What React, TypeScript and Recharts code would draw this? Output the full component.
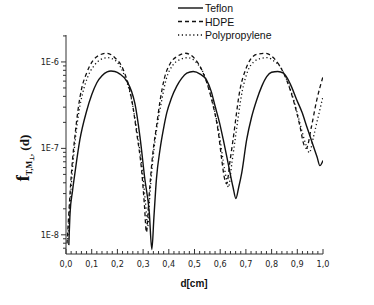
import { LineChart, Line, XAxis, YAxis, Legend, Label } from "recharts";

// Teflon (solid)
const teflonD = [0.011, 0.016, 0.025, 0.035, 0.054, 0.08, 0.1, 0.12, 0.14, 0.16, 0.175, 0.19, 0.21, 0.236, 0.255, 0.268, 0.288, 0.307, 0.324, 0.334, 0.342, 0.352, 0.366, 0.379, 0.392, 0.41, 0.431, 0.45, 0.47, 0.495, 0.522, 0.547, 0.565, 0.58, 0.597, 0.612, 0.626, 0.638, 0.65, 0.661, 0.672, 0.684, 0.703, 0.722, 0.742, 0.762, 0.781, 0.8, 0.824, 0.846, 0.872, 0.898, 0.918, 0.936, 0.962, 0.977, 0.988, 1.0];
const teflonV = [7.6e-9, 1.82e-8, 3.16e-8, 5.25e-8, 1.26e-7, 2.69e-7, 4.17e-7, 5.75e-7, 6.92e-7, 7.67e-7, 7.85e-7, 7.76e-7, 7.24e-7, 6.03e-7, 4.57e-7, 3.31e-7, 1.35e-7, 4.37e-8, 1.82e-8, 6.76e-9, 1.58e-8, 4.47e-8, 9.77e-8, 1.66e-7, 2.57e-7, 3.8e-7, 5.25e-7, 6.46e-7, 7.41e-7, 7.76e-7, 7.24e-7, 6.17e-7, 4.57e-7, 3.09e-7, 2.0e-7, 1.26e-7, 7.94e-8, 5.25e-8, 3.55e-8, 2.63e-8, 3.55e-8, 5.25e-8, 1.26e-7, 2.29e-7, 3.63e-7, 5.25e-7, 6.76e-7, 7.59e-7, 7.76e-7, 7.41e-7, 5.62e-7, 3.63e-7, 2.63e-7, 1.82e-7, 1.07e-7, 7.94e-8, 6.31e-8, 7.24e-8];

// HDPE (dashed)
const hdpeD = [0.004, 0.012, 0.022, 0.035, 0.047, 0.06, 0.08, 0.106, 0.13, 0.158, 0.19, 0.223, 0.256, 0.275, 0.295, 0.305, 0.313, 0.322, 0.338, 0.352, 0.366, 0.382, 0.405, 0.435, 0.465, 0.5, 0.534, 0.567, 0.593, 0.606, 0.615, 0.625, 0.638, 0.65, 0.677, 0.7, 0.716, 0.745, 0.775, 0.8, 0.826, 0.85, 0.872, 0.898, 0.91, 0.925, 0.935, 0.955, 0.975, 1.0];
const hdpeV = [7.94e-9, 2.0e-8, 5.62e-8, 1.41e-7, 2.82e-7, 4.79e-7, 7.41e-7, 1.05e-6, 1.2e-6, 1.26e-6, 1.12e-6, 8.13e-7, 3.63e-7, 1.51e-7, 5.25e-8, 2.24e-8, 1.07e-8, 2.51e-8, 8.91e-8, 1.78e-7, 3.55e-7, 6.31e-7, 9.55e-7, 1.17e-6, 1.26e-6, 1.1e-6, 7.41e-7, 3.63e-7, 1.51e-7, 7.41e-8, 4.79e-8, 3.89e-8, 7.08e-8, 1.26e-7, 4.79e-7, 8.32e-7, 1.05e-6, 1.23e-6, 1.26e-6, 1.17e-6, 9.55e-7, 7.08e-7, 4.79e-7, 2.57e-7, 1.82e-7, 1.12e-7, 1.0e-7, 1.78e-7, 3.55e-7, 6.76e-7];

// Polypropylene (dotted)
const ppD = [0.007, 0.015, 0.025, 0.038, 0.05, 0.065, 0.085, 0.11, 0.135, 0.162, 0.19, 0.222, 0.256, 0.277, 0.297, 0.309, 0.318, 0.326, 0.342, 0.357, 0.372, 0.39, 0.415, 0.445, 0.475, 0.505, 0.538, 0.57, 0.597, 0.612, 0.624, 0.632, 0.645, 0.658, 0.685, 0.708, 0.73, 0.76, 0.785, 0.81, 0.835, 0.858, 0.88, 0.905, 0.92, 0.935, 0.947, 0.962, 0.98, 1.0];
const ppV = [8.91e-9, 2.09e-8, 5.62e-8, 1.41e-7, 2.63e-7, 4.37e-7, 6.76e-7, 9.12e-7, 1.07e-6, 1.12e-6, 1.05e-6, 7.59e-7, 3.55e-7, 1.51e-7, 5.62e-8, 2.4e-8, 1.26e-8, 2.82e-8, 9.55e-8, 2.0e-7, 3.55e-7, 6.31e-7, 9.12e-7, 1.07e-6, 1.12e-6, 1.0e-6, 7.08e-7, 3.47e-7, 1.41e-7, 7.08e-8, 4.47e-8, 3.55e-8, 6.61e-8, 1.26e-7, 4.47e-7, 7.94e-7, 1.0e-6, 1.1e-6, 1.12e-6, 1.02e-6, 8.71e-7, 6.31e-7, 4.17e-7, 2.24e-7, 1.51e-7, 1.07e-7, 8.91e-8, 1.32e-7, 2.24e-7, 3.98e-7];

const xMajorTicks = [0, 0.1, 0.2, 0.3, 0.4, 0.5, 0.6, 0.7, 0.8, 0.9, 1.0];
const xTickLabels = ["0,0", "0,1", "0,2", "0,3", "0,4", "0,5", "0,6", "0,7", "0,8", "0,9", "1,0"];
const yMajorTicks = [1e-8, 1e-7, 1e-6];
const yTickLabels = ["1E-8", "1E-7", "1E-6"];
const yMinorTicks = [7e-9, 8e-9, 9e-9, 2e-8, 3e-8, 4e-8, 5e-8, 6e-8, 7e-8, 8e-8, 9e-8, 2e-7, 3e-7, 4e-7, 5e-7, 6e-7, 7e-7, 8e-7, 9e-7, 2e-6];

const toRows = (d: number[], v: number[]) => d.map((x, i) => ({ d: x, v: v[i] }));
const teflonData = toRows(teflonD, teflonV);
const hdpeData = toRows(hdpeD, hdpeV);
const ppData = toRows(ppD, ppV);

const series = [
  { name: "Teflon", dash: undefined as string | undefined, width: 1.4 },
  { name: "HDPE", dash: "4 3", width: 1.3 },
  { name: "Polypropylene", dash: "1.2 2.6", width: 1.3 },
];

// x minor ticks every 0.02
const xAllTicks = Array.from({ length: 51 }, (_, i) => Math.round(i * 2) / 100);
const yAllTicks = [...yMajorTicks, ...yMinorTicks].sort((a, b) => a - b);

const TICK_FONT = "'Liberation Sans Narrow', 'DejaVu Sans Condensed', 'Liberation Sans', Arial, sans-serif";
const AXIS = "#333";

const XTick = (props: any) => {
  const { x, y, payload } = props;
  const idx = xMajorTicks.findIndex((t) => Math.abs(t - payload.value) < 1e-6);
  if (idx < 0) return <line x1={x} x2={x} y1={y} y2={y - 3} stroke={AXIS} strokeWidth={1} />;
  return (
    <g>
      <line x1={x} x2={x} y1={y} y2={y - 5} stroke={AXIS} strokeWidth={1} />
      <text x={x} y={y + 13} textAnchor="middle" fontSize={9} fontFamily={TICK_FONT} fill="#222">
        {xTickLabels[idx]}
      </text>
    </g>
  );
};

const YTick = (props: any) => {
  const { x, y, payload } = props;
  const idx = yMajorTicks.findIndex((t) => Math.abs(t - payload.value) / t < 1e-6);
  if (idx < 0) return <line x1={x} x2={x - 3} y1={y} y2={y} stroke={AXIS} strokeWidth={1} />;
  return (
    <g>
      <line x1={x} x2={x - 5} y1={y} y2={y} stroke={AXIS} strokeWidth={1} />
      <text x={x - 7} y={y + 3} textAnchor="end" fontSize={9} fontFamily={TICK_FONT} fill="#222">
        {yTickLabels[idx]}
      </text>
    </g>
  );
};

const YTitle = () => (
  <text transform="translate(29,158) rotate(-90)" textAnchor="middle" fontFamily="'Liberation Serif', 'Times New Roman', serif" fontWeight="bold" fill="#111">
    <tspan fontSize={18}>f</tspan>
    <tspan fontSize={8} dy={3}>T,M</tspan>
    <tspan fontSize={6} dy={2}>⊥</tspan>
    <tspan fontSize={8} dy={-2}>,</tspan>
    <tspan fontSize={13} dy={-3}> (d)</tspan>
  </text>
);

const XTitle = () => (
  <text x={194} y={287} textAnchor="middle" fontSize={10} fontWeight="bold" fontFamily="'Liberation Sans', Arial, sans-serif" fill="#111">
    d[cm]
  </text>
);

const LegendBox = () => (
  <svg width={150} height={44}>
    {series.map((s, i) => (
      <g key={s.name}>
        <line x1={0} x2={25} y1={8 + i * 13.5} y2={8 + i * 13.5} stroke="#111" strokeWidth={s.width} strokeDasharray={s.dash} />
        <text x={27} y={12 + i * 13.5} fontSize={10.5} fontFamily="'Liberation Sans', Arial, sans-serif" fill="#111">
          {s.name}
        </text>
      </g>
    ))}
  </svg>
);

export default function App() {
  return (
    <div style={{ position: "absolute", left: 0, top: 0, width: 374, height: 305, background: "#fff" }}>
      <LineChart width={374} height={305} margin={{ top: 35, right: 51, bottom: 0, left: 0 }}>
        <XAxis
          type="number"
          dataKey="d"
          domain={[0, 1]}
          ticks={xAllTicks}
          interval={0}
          height={51}
          tickSize={0}
          tickMargin={0}
          tick={<XTick />}
          stroke={AXIS}
          allowDataOverflow
        >
          <Label content={<XTitle />} />
        </XAxis>
        <YAxis
          type="number"
          scale="log"
          domain={[6e-9, 2.05e-6]}
          ticks={yAllTicks}
          interval={0}
          width={66}
          tickSize={0}
          tickMargin={0}
          tick={<YTick />}
          stroke={AXIS}
          allowDataOverflow
        >
          <Label content={<YTitle />} />
        </YAxis>
        <Legend
          layout="vertical"
          align="center"
          verticalAlign="middle"
          content={<LegendBox />}
          wrapperStyle={{ left: 178, top: 0, width: 150, height: 44 }}
        />
        <Line data={teflonData} dataKey="v" name="Teflon" type="monotone" stroke="#111" strokeWidth={1.4} dot={false} isAnimationActive={false} />
        <Line data={hdpeData} dataKey="v" name="HDPE" type="monotone" stroke="#111" strokeWidth={1.3} strokeDasharray="4 3" dot={false} isAnimationActive={false} />
        <Line data={ppData} dataKey="v" name="Polypropylene" type="monotone" stroke="#111" strokeWidth={1.3} strokeDasharray="1.2 2.6" dot={false} isAnimationActive={false} />
      </LineChart>
    </div>
  );
}
